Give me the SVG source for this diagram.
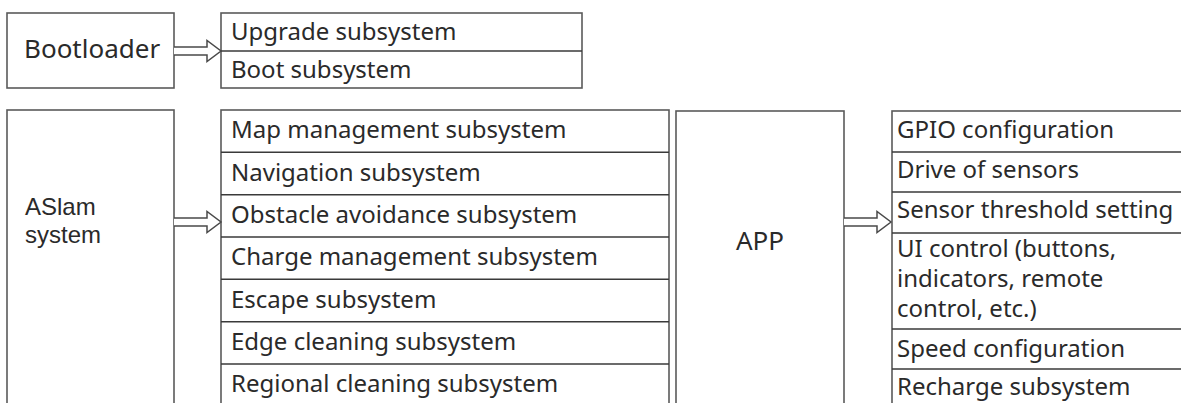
<svg xmlns="http://www.w3.org/2000/svg" width="1181" height="403" viewBox="0 0 1181 403">
<style>
.box{fill:#fff;stroke:#5a5a5a;stroke-width:1.6}
.div{stroke:#3a3a3a;stroke-width:1.6}
.t{font-family:"Noto Sans","Open Sans",sans-serif;font-size:24px;fill:#2a2a2a}
.big{font-size:26px}
.a{font-family:"Liberation Sans",Arial,sans-serif;font-size:24px;fill:#2a2a2a}
.arr{fill:#fff;stroke:#4a4a4a;stroke-width:1.5;stroke-linejoin:miter}
</style>
<rect width="1181" height="403" fill="#fff"/>
<g id="bootloader">
<rect class="box" x="7" y="13" width="167" height="75"/>
<text class="t big" x="24" y="58">Bootloader</text>
</g>
<g id="boot-list">
<rect class="box" x="221" y="13" width="361" height="75"/>
<line class="div" x1="221" y1="51" x2="582" y2="51"/>
<g id="upgrade"><text class="t" x="231" y="40">Upgrade subsystem</text></g>
<g id="boot"><text class="t" x="231" y="78">Boot subsystem</text></g>
</g>
<g id="aslam">
<rect class="box" x="7" y="110" width="167" height="310"/>
<text class="a" x="25" y="215">ASlam</text>
<text class="a" x="25" y="243">system</text>
</g>
<g id="aslam-list">
<rect class="box" x="221" y="110" width="448" height="310"/>
<line class="div" x1="221" y1="152.3" x2="669" y2="152.3"/>
<line class="div" x1="221" y1="194.7" x2="669" y2="194.7"/>
<line class="div" x1="221" y1="237" x2="669" y2="237"/>
<line class="div" x1="221" y1="279.3" x2="669" y2="279.3"/>
<line class="div" x1="221" y1="321.7" x2="669" y2="321.7"/>
<line class="div" x1="221" y1="364" x2="669" y2="364"/>
<g id="map"><text class="t" x="231" y="138">Map management subsystem</text></g>
<g id="nav"><text class="t" x="231" y="180.5">Navigation subsystem</text></g>
<g id="obstacle"><text class="t" x="231" y="223">Obstacle avoidance subsystem</text></g>
<g id="charge"><text class="t" x="231" y="265">Charge management subsystem</text></g>
<g id="escape"><text class="t" x="231" y="307.5">Escape subsystem</text></g>
<g id="edge"><text class="t" x="231" y="350">Edge cleaning subsystem</text></g>
<g id="regional"><text class="t" x="231" y="392">Regional cleaning subsystem</text></g>
</g>
<g id="app">
<rect class="box" x="676" y="111" width="168" height="310"/>
<text class="t big" x="760" y="250" text-anchor="middle">APP</text>
</g>
<g id="app-list">
<rect class="box" x="892" y="111" width="300" height="310"/>
<line class="div" x1="892" y1="152" x2="1192" y2="152"/>
<line class="div" x1="892" y1="192" x2="1192" y2="192"/>
<line class="div" x1="892" y1="233" x2="1192" y2="233"/>
<line class="div" x1="892" y1="329" x2="1192" y2="329"/>
<line class="div" x1="892" y1="369" x2="1192" y2="369"/>
<g id="gpio"><text class="t" x="897" y="138">GPIO configuration</text></g>
<g id="drive"><text class="t" x="897" y="178">Drive of sensors</text></g>
<g id="threshold"><text class="t" x="897" y="218">Sensor threshold setting</text></g>
<g id="ui"><text class="t" x="897" y="257">UI control (buttons,</text><text class="t" x="897" y="287">indicators, remote</text><text class="t" x="897" y="317">control, etc.)</text></g>
<g id="speed"><text class="t" x="897" y="357">Speed configuration</text></g>
<g id="recharge"><text class="t" x="897" y="395">Recharge subsystem</text></g>
</g>
<g id="connectors">
<path class="arr" d="M174,47 H207 V40.5 L221,51 L207,61.5 V55 H174"/>
<path class="arr" d="M174,218 H207 V211.5 L221,222 L207,232.5 V226 H174"/>
<path class="arr" d="M844,218 H877 V211.5 L891,222 L877,232.5 V226 H844"/>
</g>
</svg>
